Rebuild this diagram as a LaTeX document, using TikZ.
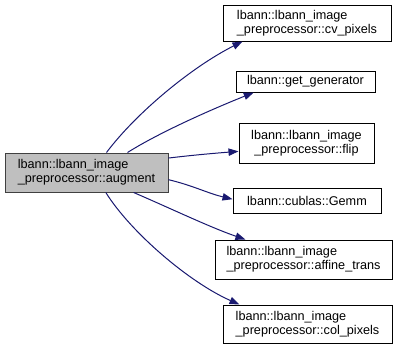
\documentclass[tikz,border=0pt]{standalone}
\usepackage{fontspec}
\setmainfont{Liberation Sans}
\usepackage{tikz}
\usetikzlibrary{arrows.meta}
\definecolor{edgeblue}{RGB}{25,25,112}
\definecolor{rootgray}{RGB}{191,191,191}
\tikzset{
    fnbox/.style={draw=black,line width=0.75pt,fill=white,inner sep=0pt,align=left,
                  font=\fontsize{9.5pt}{10.7pt}\selectfont},
    rootbox/.style={fnbox,draw=black!75,fill=rootgray},
    calledge/.style={draw=edgeblue,line width=0.75pt,
                     -{Triangle[length=7.5pt,width=5.5pt]}}
}
\begin{document}
\begin{tikzpicture}[x=0.75pt,y=-0.75pt]
  \useasboundingbox (0,0) rectangle (403,351);

  % caller
  \node[rootbox,minimum width=122.25pt,minimum height=29.25pt] (src) at (86.5,172.5)
    {lbann::lbann\_image\\\_preprocessor::augment};

  % callees
  \node[fnbox,minimum width=126pt,minimum height=27pt] (cvpix) at (307,23)
    {lbann::lbann\_image\\\_preprocessor::cv\_pixels};
  \node[fnbox,minimum width=104.25pt,minimum height=15.75pt] (getgen) at (305.5,81.5)
    {lbann::get\_generator};
  \node[fnbox,align=center,minimum width=101.25pt,minimum height=30pt] (flip) at (306.5,143)
    {lbann::lbann\_image\\\_preprocessor::flip};
  \node[fnbox,minimum width=111pt,minimum height=18.75pt] (gemm) at (307,200.5)
    {lbann::cublas::Gemm};
  \node[fnbox,minimum width=132.75pt,minimum height=29.25pt] (affine) at (303.5,259.5)
    {lbann::lbann\_image\\\_preprocessor::affine\_trans};
  \node[fnbox,minimum width=126.75pt,minimum height=28.5pt] (colpix) at (307.5,324)
    {lbann::lbann\_image\\\_preprocessor::col\_pixels};

  % calls
  \draw[calledge] (src.45) .. controls +(30,-40) and +(-50,25) .. (cvpix.196);
  \draw[calledge] (src.26) .. controls +(35,-22) and +(-35,14) .. (getgen.192);
  \draw[calledge] (src.10) .. controls +(25,-3) and +(-25,2) .. (flip.187);
  \draw[calledge] (src.-5) .. controls +(25,6) and +(-25,-6) .. (gemm.179);
  \draw[calledge] (src.-23) .. controls +(35,15) and +(-35,-12) .. (affine.161);
  \draw[calledge] (src.-46) .. controls +(25,40) and +(-50,-22) .. (colpix.164);
\end{tikzpicture}
\end{document}
